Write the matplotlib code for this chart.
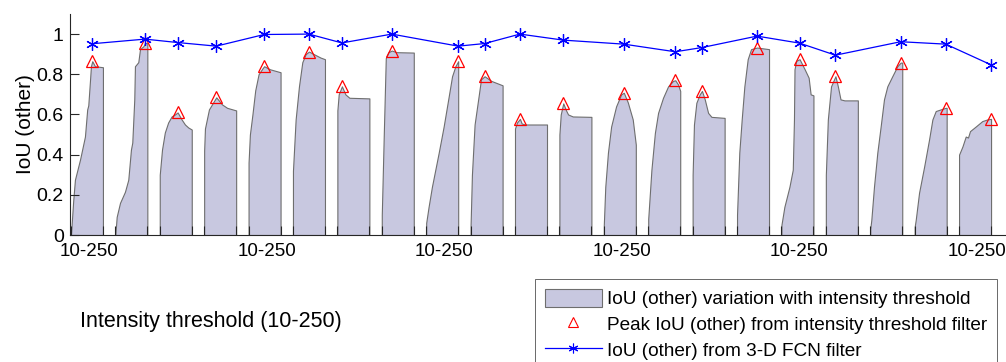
import numpy as np
import matplotlib.pyplot as plt
from matplotlib.patches import Patch
from matplotlib.lines import Line2D

plt.rcParams['font.family'] = ['Liberation Sans', 'DejaVu Sans']

thr = [
    [10, 27, 40, 78, 115, 132, 140, 152, 160, 170, 190, 250],
    [10, 20, 45, 82, 107, 127, 137, 152, 157, 182, 195, 221, 232, 250],
    [10, 27, 48, 73, 99, 124, 144, 174, 199, 224, 250],
    [10, 16, 46, 84, 101, 144, 182, 250],
    [10, 20, 39, 60, 85, 115, 127, 170, 250],
    [10, 30, 55, 80, 105, 130, 167, 217, 250],
    [10, 20, 44, 70, 100, 250],
    [10, 25, 40, 60, 85, 120, 250],
    [10, 28, 53, 104, 141, 179, 204, 229, 250],
    [10, 20, 40, 70, 88, 115, 165, 250],
    [10, 25, 47, 60, 85, 250],
    [10, 20, 39, 60, 75, 110, 250],
    [10, 21, 41, 65, 102, 140, 160, 190, 227, 250],
    [10, 34, 60, 84, 121, 159, 196, 213, 233, 250],
    [10, 20, 38, 63, 80, 101, 126, 151, 250],
    [10, 27, 45, 65, 90, 115, 160, 250],
    [10, 32, 70, 95, 104, 108, 121, 146, 184, 214, 229, 250],
    [10, 25, 49, 82, 100, 120, 150, 250],
    [10, 18, 38, 63, 88, 113, 138, 175, 213, 238, 250],
    [10, 18, 43, 81, 118, 143, 168, 218, 243, 250],
    [10, 35, 60, 77, 92, 135, 184, 221, 250],
]
iou = [
    [0.0, 0.17, 0.275, 0.375, 0.49, 0.625, 0.645, 0.76, 0.84, 0.865, 0.84, 0.835],
    [0.0, 0.09, 0.16, 0.215, 0.275, 0.425, 0.46, 0.675, 0.84, 0.86, 0.925, 0.94, 0.955, 0.955],
    [0.30, 0.425, 0.51, 0.56, 0.59, 0.60, 0.61, 0.575, 0.55, 0.535, 0.525],
    [0.42, 0.53, 0.625, 0.667, 0.685, 0.65, 0.633, 0.62],
    [0.36, 0.50, 0.60, 0.72, 0.80, 0.83, 0.84, 0.825, 0.81],
    [0.32, 0.575, 0.74, 0.86, 0.90, 0.913, 0.90, 0.883, 0.875],
    [0.62, 0.70, 0.74, 0.70, 0.683, 0.68],
    [0.10, 0.50, 0.88, 0.91, 0.918, 0.91, 0.908],
    [0.06, 0.14, 0.24, 0.41, 0.54, 0.69, 0.79, 0.84, 0.865],
    [0.05, 0.30, 0.55, 0.69, 0.775, 0.79, 0.767, 0.745],
    [0.53, 0.56, 0.578, 0.555, 0.55, 0.55],
    [0.50, 0.60, 0.655, 0.62, 0.60, 0.59, 0.588],
    [0.05, 0.24, 0.41, 0.54, 0.64, 0.70, 0.708, 0.66, 0.575, 0.45],
    [0.08, 0.325, 0.508, 0.608, 0.683, 0.74, 0.767, 0.77, 0.75, 0.717],
    [0.30, 0.55, 0.658, 0.70, 0.717, 0.675, 0.608, 0.588, 0.583],
    [0.10, 0.41, 0.575, 0.74, 0.875, 0.925, 0.933, 0.925],
    [0.05, 0.14, 0.24, 0.325, 0.575, 0.825, 0.867, 0.875, 0.825, 0.783, 0.70, 0.695],
    [0.30, 0.575, 0.74, 0.79, 0.74, 0.675, 0.67, 0.67],
    [0.03, 0.075, 0.24, 0.41, 0.54, 0.675, 0.74, 0.79, 0.84, 0.858, 0.858],
    [0.04, 0.075, 0.21, 0.34, 0.475, 0.575, 0.617, 0.628, 0.633, 0.633],
    [0.40, 0.44, 0.49, 0.485, 0.517, 0.54, 0.567, 0.575, 0.578],
]
fcn_iou = [0.952, 0.975, 0.958, 0.94, 0.998, 1.0, 0.956, 1.0, 0.94, 0.953, 1.0,
           0.97, 0.95, 0.912, 0.933, 0.99, 0.955, 0.895, 0.962, 0.95, 0.847]
label_groups = [0, 4, 8, 12, 16, 20]
tick_text = ['10-250'] * len(label_groups)

period = 333  # x units per test volume (240 for 10-250 plus a gap)
fill_c = '#c8c8e0'

fig = plt.figure(figsize=(10.06, 3.62), dpi=100)
ax = fig.add_axes([70 / 1006, 1 - 235 / 362, 936 / 1006, 221 / 362])

peak_x, peak_y, edges = [], [], []
for g in range(len(thr)):
    xs = g * period + (np.array(thr[g]) - 10)
    ys = np.array(iou[g])
    ax.fill_between(xs, ys, 0, facecolor=fill_c, edgecolor='#6e6e6e', lw=0.8, zorder=1)
    k = np.argmax(ys)
    peak_x.append(xs[k])
    peak_y.append(ys[k])
    edges += [xs[0], xs[-1]]

ax.plot(peak_x, peak_y, '^', ms=8, mfc='none', mec='#ff0000', mew=0.9, zorder=3)
ax.plot(peak_x, fcn_iou, '-', color='#0000ff', lw=0.9, marker=(6, 2, 0), ms=9, mew=0.9, zorder=4)

ax.set_xlim(-7, 7012)
ax.set_ylim(0, 1.1)
ax.set_yticks(np.arange(0, 1.01, 0.2))
ax.set_yticklabels(['0', '0.2', '0.4', '0.6', '0.8', '1'])
ax.set_xticks(edges)
ax.set_xticklabels([])
ax.set_xticks([g * period + 135 for g in label_groups], labels=tick_text, minor=True)
ax.tick_params(axis='both', which='major', direction='in', length=6.5, width=0.8,
               color='#262626', labelsize=14, pad=4.5)
ax.tick_params(axis='x', which='minor', length=0, labelsize=13.5, pad=5.5)
for s in ['top', 'right']:
    ax.spines[s].set_visible(False)
for s in ['left', 'bottom']:
    ax.spines[s].set_color('#262626')
    ax.spines[s].set_linewidth(0.8)

ax.set_ylabel('IoU (other)', fontsize=15)
ax.yaxis.set_label_coords(-0.037, 0.5)
fig.text(80 / 1006, 1 - 322 / 362, 'Intensity threshold (10-250)', fontsize=15.5, va='center', ha='left')

handles = [
    Patch(facecolor=fill_c, edgecolor='#6e6e6e', lw=0.8),
    Line2D([], [], ls='none', marker='^', ms=6.5, mfc='none', mec='#ff0000', mew=0.8),
    Line2D([], [], color='#0000ff', lw=0.9, marker=(6, 2, 0), ms=7, mew=0.8),
]
labels = ['IoU (other) variation with intensity threshold',
          'Peak IoU (other) from intensity threshold filter',
          'IoU (other) from 3-D FCN filter']
leg = fig.legend(handles, labels, loc='upper left', bbox_to_anchor=(535 / 1006, 1 - 279 / 362),
                 borderaxespad=0, fontsize=13.7, frameon=True, fancybox=False,
                 handlelength=3.0, handleheight=1.1, handletextpad=0.3, labelspacing=0.33,
                 borderpad=0.5)
leg.get_frame().set_edgecolor('#262626')
leg.get_frame().set_linewidth(0.6)

fig.savefig('out.png', dpi=100)
